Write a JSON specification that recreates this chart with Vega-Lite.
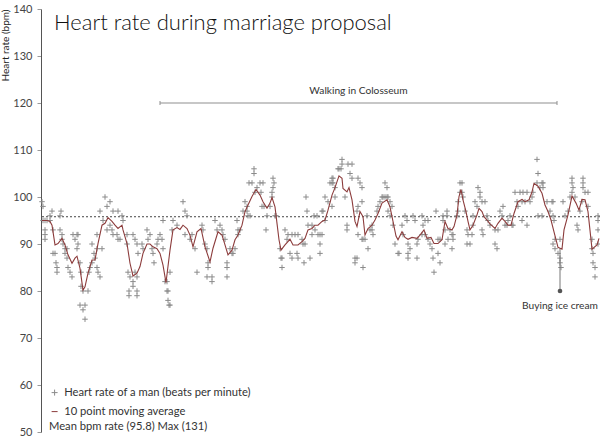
{
  "$schema": "https://vega.github.io/schema/vega-lite/v6.json",
  "width": 559,
  "height": 423,
  "autosize": "none",
  "padding": {"left": 41, "top": 9, "right": 0, "bottom": 12},
  "background": "white",
  "title": {
    "text": "Heart rate during marriage proposal",
    "anchor": "start",
    "orient": "top",
    "frame": "group",
    "offset": 0,
    "dx": 13,
    "dy": 49,
    "baseline": "alphabetic",
    "font": "Lato",
    "fontSize": 22,
    "fontWeight": 300,
    "color": "#111"
  },
  "config": {
    "font": "Lato",
    "view": {"stroke": null},
    "axisY": {
      "grid": false,
      "domainColor": "#555",
      "tickColor": "#999",
      "tickSize": 4,
      "labelFontSize": 11,
      "labelColor": "#444",
      "labelPadding": 5,
      "titleFontSize": 10,
      "titleFontWeight": "normal",
      "titleColor": "#222",
      "titleAnchor": "end",
      "titlePadding": 2
    }
  },
  "datasets": {
    "hr": [
      {"t":0,"bpm":99},{"t":1,"bpm":98},{"t":1,"bpm":95},{"t":3,"bpm":95},{"t":5,"bpm":95},{"t":8,"bpm":95},{"t":3,"bpm":93},{"t":3,"bpm":92},{"t":3,"bpm":91},{"t":8,"bpm":96},
      {"t":10,"bpm":97},{"t":11,"bpm":93},{"t":11,"bpm":88},{"t":13,"bpm":88},{"t":14,"bpm":86},{"t":15,"bpm":85},{"t":15,"bpm":84},{"t":18,"bpm":93},{"t":19,"bpm":97},{"t":18,"bpm":96},
      {"t":20,"bpm":91},{"t":20,"bpm":92},{"t":21,"bpm":90},{"t":23,"bpm":89},{"t":25,"bpm":89},{"t":23,"bpm":88},{"t":25,"bpm":87},{"t":26,"bpm":85},{"t":28,"bpm":84},{"t":30,"bpm":83},
      {"t":31,"bpm":92},{"t":35,"bpm":92},{"t":36,"bpm":92},{"t":33,"bpm":91},{"t":35,"bpm":89},{"t":36,"bpm":90},{"t":38,"bpm":86},{"t":39,"bpm":84},{"t":39,"bpm":81},{"t":41,"bpm":80},
      {"t":38,"bpm":77},{"t":43,"bpm":77},{"t":41,"bpm":76},{"t":43,"bpm":74},{"t":46,"bpm":80},{"t":47,"bpm":84},{"t":48,"bpm":85},{"t":50,"bpm":86},{"t":53,"bpm":87},{"t":55,"bpm":85},
      {"t":50,"bpm":90},{"t":52,"bpm":88},{"t":55,"bpm":89},{"t":55,"bpm":92},{"t":56,"bpm":84},{"t":58,"bpm":83},{"t":58,"bpm":97},{"t":61,"bpm":95},{"t":63,"bpm":100},{"t":65,"bpm":98},
      {"t":68,"bpm":99},{"t":71,"bpm":97},{"t":60,"bpm":89},{"t":65,"bpm":93},{"t":68,"bpm":94},{"t":70,"bpm":93},{"t":71,"bpm":92},{"t":75,"bpm":92},{"t":76,"bpm":91},{"t":78,"bpm":91},
      {"t":76,"bpm":97},{"t":80,"bpm":96},{"t":81,"bpm":95},{"t":85,"bpm":92},{"t":85,"bpm":90},{"t":86,"bpm":84},{"t":88,"bpm":83},{"t":91,"bpm":82},{"t":93,"bpm":84},{"t":95,"bpm":83},
      {"t":91,"bpm":81},{"t":87,"bpm":80},{"t":95,"bpm":80},{"t":87,"bpm":79},{"t":95,"bpm":79},{"t":91,"bpm":92},{"t":93,"bpm":91},{"t":95,"bpm":90},{"t":100,"bpm":90},{"t":101,"bpm":89},
      {"t":96,"bpm":88},{"t":105,"bpm":93},{"t":106,"bpm":91},{"t":108,"bpm":92},{"t":110,"bpm":89},{"t":111,"bpm":88},{"t":112,"bpm":86},{"t":115,"bpm":90},{"t":116,"bpm":91},{"t":118,"bpm":92},
      {"t":120,"bpm":91},{"t":121,"bpm":95},{"t":121,"bpm":89},{"t":123,"bpm":82},{"t":125,"bpm":82},{"t":125,"bpm":80},{"t":126,"bpm":80},{"t":126,"bpm":78},{"t":128,"bpm":77},{"t":127,"bpm":77},
      {"t":128,"bpm":84},{"t":130,"bpm":93},{"t":131,"bpm":95},{"t":135,"bpm":94},{"t":141,"bpm":99},{"t":143,"bpm":97},{"t":145,"bpm":96},{"t":143,"bpm":92},{"t":148,"bpm":91},{"t":150,"bpm":92},
      {"t":153,"bpm":89},{"t":155,"bpm":84},
      {"t":160,"bpm":94},{"t":161,"bpm":93},{"t":163,"bpm":90},{"t":165,"bpm":89},{"t":166,"bpm":86},{"t":166,"bpm":85},{"t":165,"bpm":83},{"t":170,"bpm":83},{"t":170,"bpm":82},{"t":173,"bpm":95},
      {"t":175,"bpm":93},{"t":178,"bpm":94},{"t":180,"bpm":93},{"t":181,"bpm":92},{"t":183,"bpm":91},{"t":185,"bpm":86},{"t":185,"bpm":85},{"t":185,"bpm":83},{"t":188,"bpm":89},{"t":190,"bpm":88},
      {"t":191,"bpm":88},{"t":193,"bpm":89},{"t":195,"bpm":95},{"t":196,"bpm":92},{"t":196,"bpm":93},{"t":198,"bpm":93},{"t":203,"bpm":99},{"t":201,"bpm":97},{"t":205,"bpm":97},{"t":205,"bpm":98},
      {"t":206,"bpm":96},{"t":208,"bpm":96},{"t":207,"bpm":103},{"t":210,"bpm":103},{"t":212,"bpm":106},{"t":212,"bpm":105},{"t":213,"bpm":101},{"t":215,"bpm":102},{"t":218,"bpm":103},{"t":221,"bpm":103},
      {"t":219,"bpm":101},{"t":220,"bpm":98},{"t":222,"bpm":98},{"t":225,"bpm":96},{"t":224,"bpm":93},{"t":228,"bpm":98},{"t":231,"bpm":104},{"t":232,"bpm":103},{"t":231,"bpm":102},{"t":230,"bpm":101},
      {"t":230,"bpm":100},{"t":233,"bpm":96},{"t":234,"bpm":96},{"t":238,"bpm":89},{"t":239,"bpm":87},{"t":240,"bpm":87},{"t":240,"bpm":85},{"t":243,"bpm":93},{"t":245,"bpm":91},{"t":246,"bpm":92},
      {"t":250,"bpm":92},{"t":253,"bpm":92},{"t":256,"bpm":92},{"t":248,"bpm":88},{"t":250,"bpm":87},{"t":255,"bpm":88},{"t":256,"bpm":87},{"t":260,"bpm":91},{"t":261,"bpm":90},{"t":263,"bpm":90},
      {"t":262,"bpm":86},{"t":264,"bpm":100},{"t":265,"bpm":97},{"t":266,"bpm":94},{"t":270,"bpm":94},{"t":268,"bpm":87},{"t":270,"bpm":92},{"t":272,"bpm":96},
      {"t":275,"bpm":96},{"t":273,"bpm":93},{"t":276,"bpm":92},{"t":278,"bpm":92},{"t":280,"bpm":92},{"t":278,"bpm":90},{"t":278,"bpm":88},{"t":280,"bpm":97},{"t":281,"bpm":97},{"t":283,"bpm":95},
      {"t":283,"bpm":100},{"t":286,"bpm":99},{"t":290,"bpm":98},{"t":288,"bpm":103},{"t":290,"bpm":103},{"t":291,"bpm":103},{"t":290,"bpm":104},{"t":291,"bpm":104},{"t":293,"bpm":102},{"t":293,"bpm":100},
      {"t":296,"bpm":106},{"t":297,"bpm":106},{"t":300,"bpm":107},{"t":300,"bpm":108},{"t":299,"bpm":106},{"t":303,"bpm":100},{"t":305,"bpm":93},{"t":305,"bpm":94},{"t":306,"bpm":107},{"t":310,"bpm":107},
      {"t":308,"bpm":105},{"t":310,"bpm":104},{"t":316,"bpm":104},{"t":318,"bpm":103},{"t":320,"bpm":102},{"t":315,"bpm":97},{"t":316,"bpm":98},{"t":320,"bpm":99},{"t":313,"bpm":87},{"t":315,"bpm":87},
      {"t":313,"bpm":86},{"t":321,"bpm":85},{"t":316,"bpm":92},{"t":320,"bpm":91},{"t":321,"bpm":91},{"t":323,"bpm":91},{"t":325,"bpm":96},{"t":326,"bpm":89},{"t":328,"bpm":93},{"t":330,"bpm":93},
      {"t":330,"bpm":94},{"t":331,"bpm":92},{"t":335,"bpm":97},{"t":336,"bpm":98},{"t":338,"bpm":99},{"t":340,"bpm":100},{"t":341,"bpm":100},{"t":343,"bpm":100},{"t":345,"bpm":100},{"t":346,"bpm":100},
      {"t":343,"bpm":103},{"t":345,"bpm":102},{"t":348,"bpm":99},{"t":350,"bpm":98},{"t":346,"bpm":97},{"t":348,"bpm":96},{"t":351,"bpm":94},{"t":353,"bpm":90},{"t":356,"bpm":88},{"t":357,"bpm":88},
      {"t":360,"bpm":94},{"t":361,"bpm":92},{"t":363,"bpm":96},{"t":365,"bpm":95},{"t":366,"bpm":90},{"t":368,"bpm":89},{"t":366,"bpm":88},{"t":366,"bpm":87},{"t":375,"bpm":87},{"t":371,"bpm":96},
      {"t":373,"bpm":95},{"t":375,"bpm":90},{"t":376,"bpm":91},{"t":380,"bpm":96},{"t":383,"bpm":95},{"t":381,"bpm":94},{"t":380,"bpm":92},{"t":383,"bpm":92},{"t":386,"bpm":95},{"t":386,"bpm":91},
      {"t":388,"bpm":90},{"t":390,"bpm":89},{"t":391,"bpm":87},{"t":392,"bpm":84},{"t":394,"bpm":97},{"t":396,"bpm":91},{"t":398,"bpm":91},{"t":396,"bpm":88},{"t":398,"bpm":86},{"t":401,"bpm":96},
      {"t":401,"bpm":95},
      {"t":405,"bpm":97},{"t":405,"bpm":96},{"t":403,"bpm":93},{"t":403,"bpm":90},{"t":406,"bpm":91},{"t":410,"bpm":92},{"t":411,"bpm":92},{"t":411,"bpm":91},{"t":410,"bpm":89},{"t":408,"bpm":93},
      {"t":415,"bpm":96},{"t":416,"bpm":97},{"t":416,"bpm":99},{"t":418,"bpm":101},{"t":420,"bpm":101},{"t":418,"bpm":103},{"t":420,"bpm":103},{"t":421,"bpm":100},{"t":423,"bpm":97},{"t":425,"bpm":93},
      {"t":425,"bpm":90},{"t":428,"bpm":90},{"t":426,"bpm":92},{"t":430,"bpm":92},{"t":431,"bpm":94},{"t":433,"bpm":99},{"t":431,"bpm":96},{"t":435,"bpm":98},{"t":436,"bpm":102},{"t":438,"bpm":101},
      {"t":438,"bpm":100},{"t":440,"bpm":99},{"t":440,"bpm":93},{"t":441,"bpm":92},{"t":443,"bpm":99},{"t":445,"bpm":96},{"t":446,"bpm":95},{"t":448,"bpm":94},{"t":453,"bpm":93},{"t":456,"bpm":93},
      {"t":453,"bpm":90},{"t":455,"bpm":89},{"t":458,"bpm":97},{"t":460,"bpm":96},{"t":461,"bpm":98},{"t":463,"bpm":94},{"t":465,"bpm":94},{"t":466,"bpm":95},{"t":468,"bpm":96},{"t":470,"bpm":94},
      {"t":471,"bpm":94},{"t":473,"bpm":101},{"t":475,"bpm":99},{"t":478,"bpm":101},{"t":481,"bpm":101},{"t":485,"bpm":101},{"t":476,"bpm":98},{"t":480,"bpm":99},{"t":483,"bpm":99},{"t":480,"bpm":95},
      {"t":485,"bpm":94},{"t":488,"bpm":99},{"t":490,"bpm":100},{"t":491,"bpm":101},{"t":495,"bpm":108},{"t":496,"bpm":105},{"t":495,"bpm":103},{"t":500,"bpm":103},{"t":501,"bpm":103},{"t":498,"bpm":102},
      {"t":501,"bpm":102},{"t":496,"bpm":96},{"t":500,"bpm":96},{"t":505,"bpm":99},{"t":508,"bpm":97},{"t":510,"bpm":99},{"t":511,"bpm":99},{"t":511,"bpm":96},{"t":512,"bpm":95},{"t":511,"bpm":90},
      {"t":513,"bpm":89},{"t":513,"bpm":91},{"t":516,"bpm":88},{"t":518,"bpm":87},{"t":518,"bpm":86},{"t":519,"bpm":85},{"t":518,"bpm":91},{"t":521,"bpm":99},{"t":523,"bpm":96},{"t":526,"bpm":97},
      {"t":528,"bpm":100},{"t":530,"bpm":101},{"t":530,"bpm":104},{"t":530,"bpm":103},{"t":531,"bpm":102},{"t":533,"bpm":100},{"t":535,"bpm":94},{"t":536,"bpm":93},{"t":538,"bpm":97},{"t":540,"bpm":99},
      {"t":541,"bpm":104},{"t":541,"bpm":103},{"t":541,"bpm":102},{"t":543,"bpm":101},{"t":546,"bpm":101},{"t":546,"bpm":98},{"t":550,"bpm":91},{"t":550,"bpm":89},{"t":551,"bpm":88},{"t":551,"bpm":86},
      {"t":553,"bpm":85},{"t":553,"bpm":83},{"t":556,"bpm":96},{"t":556,"bpm":95},{"t":556,"bpm":93},{"t":556,"bpm":90}
    ],
    "avg": [
      {"t":0,"avg":95},{"t":5,"avg":95},{"t":8,"avg":94.8},{"t":10,"avg":94},{"t":13,"avg":89.8},{"t":16,"avg":90.1},{"t":20,"avg":91.2},{"t":23,"avg":89.8},{"t":26,"avg":87.7},{"t":30,"avg":85.9},
      {"t":33,"avg":87},{"t":35,"avg":87.4},{"t":38,"avg":84.8},{"t":41,"avg":80.2},{"t":43,"avg":80.9},{"t":46,"avg":83.8},{"t":50,"avg":86.6},{"t":53,"avg":86.6},{"t":56,"avg":90.1},{"t":60,"avg":94},
      {"t":63,"avg":94.4},{"t":66,"avg":95.6},{"t":70,"avg":94.8},{"t":73,"avg":94},{"t":76,"avg":93.3},{"t":80,"avg":94},{"t":81,"avg":93},{"t":85,"avg":90.1},{"t":88,"avg":85.9},{"t":91,"avg":83.2},
      {"t":95,"avg":83.8},{"t":98,"avg":85.2},{"t":101,"avg":88},{"t":105,"avg":90},{"t":108,"avg":90},{"t":111,"avg":89.4},{"t":115,"avg":89},{"t":118,"avg":88},{"t":121,"avg":85.5},{"t":124,"avg":81.8},
      {"t":128,"avg":88.7},{"t":131,"avg":93},{"t":135,"avg":93.5},{"t":138,"avg":93.1},{"t":141,"avg":94},{"t":145,"avg":93.3},{"t":148,"avg":91.9},{"t":151,"avg":89.4},{"t":155,"avg":92.6},{"t":159,"avg":93.3},
      {"t":163,"avg":89.4},{"t":168,"avg":86.2},{"t":171,"avg":89.1},{"t":176,"avg":92.6},{"t":180,"avg":91.9},{"t":183,"avg":89.8},{"t":186,"avg":87.7},{"t":190,"avg":88.7},{"t":193,"avg":90.9},{"t":196,"avg":91.9},
      {"t":200,"avg":94},{"t":203,"avg":96.9},{"t":206,"avg":98.3},{"t":210,"avg":100.1},{"t":214,"avg":101.6},{"t":218,"avg":100.4},{"t":221,"avg":99},{"t":225,"avg":97.6},{"t":228,"avg":98.7},{"t":230,"avg":99.9},
      {"t":233,"avg":97.9},{"t":235,"avg":94.4},{"t":237,"avg":90.9},{"t":239,"avg":88.7},{"t":243,"avg":89.8},{"t":248,"avg":91},{"t":251,"avg":89.8},{"t":256,"avg":89.8},{"t":260,"avg":90.5},{"t":263,"avg":91.2},
      {"t":266,"avg":93},{"t":270,"avg":93.3},{"t":273,"avg":94},{"t":276,"avg":94},{"t":280,"avg":94.8},{"t":283,"avg":95.1},{"t":286,"avg":97.2},{"t":290,"avg":100.4},{"t":293,"avg":102},{"t":297,"avg":104.5},
      {"t":300,"avg":104},{"t":301,"avg":101.8},{"t":305,"avg":101.1},{"t":307,"avg":102},{"t":310,"avg":99.4},{"t":313,"avg":94.8},{"t":315,"avg":93.7},{"t":318,"avg":96.9},{"t":321,"avg":95.8},{"t":323,"avg":91.9},
      {"t":326,"avg":93.3},{"t":330,"avg":94},{"t":333,"avg":95.1},{"t":336,"avg":96.5},{"t":340,"avg":98.7},{"t":345,"avg":99.4},{"t":348,"avg":97.9},{"t":351,"avg":94.8},{"t":354,"avg":91.7},{"t":356,"avg":90.9},
      {"t":360,"avg":92.6},{"t":363,"avg":91.4},{"t":366,"avg":91},{"t":370,"avg":91.4},{"t":375,"avg":91.2},{"t":378,"avg":91.9},{"t":382,"avg":93},{"t":385,"avg":91.2},{"t":389,"avg":91.4},{"t":392,"avg":90.1},
      {"t":396,"avg":90.1},{"t":400,"avg":90.9},{"t":403,"avg":94.8},{"t":406,"avg":93.3},{"t":410,"avg":93},{"t":412,"avg":93.7},{"t":415,"avg":96.2},{"t":417,"avg":100.1},{"t":419,"avg":101.6},{"t":421,"avg":99.4},
      {"t":424,"avg":96.9},{"t":426,"avg":94.8},{"t":428,"avg":93},{"t":431,"avg":94},{"t":435,"avg":96.2},{"t":437,"avg":97.6},{"t":440,"avg":96.9},{"t":442,"avg":95.8},{"t":445,"avg":95.1},{"t":448,"avg":94.3},
      {"t":453,"avg":93.3},{"t":456,"avg":94.4},{"t":460,"avg":95.5},{"t":463,"avg":94.8},{"t":466,"avg":94},{"t":469,"avg":94},{"t":472,"avg":96.5},{"t":476,"avg":99},{"t":480,"avg":99.5},{"t":483,"avg":99},
      {"t":487,"avg":99.4},{"t":490,"avg":101.1},{"t":492,"avg":102.9},{"t":496,"avg":102.3},{"t":500,"avg":100.8},{"t":503,"avg":98.3},{"t":506,"avg":96.9},{"t":509,"avg":95.1},{"t":512,"avg":92.6},{"t":516,"avg":89.3},
      {"t":520,"avg":88.9},{"t":522,"avg":93},{"t":526,"avg":96.2},{"t":530,"avg":100.2},{"t":534,"avg":98.7},{"t":537,"avg":97.2},{"t":540,"avg":99.5},{"t":543,"avg":99.4},{"t":546,"avg":96.9},{"t":550,"avg":88.9},
      {"t":555,"avg":89.8},{"t":557,"avg":91.2}
    ],
    "walk": [{"start": 118, "end": 515, "level": 120, "label": "Walking in Colosseum"}],
    "walkEnds": [{"t": 118, "level": 120}, {"t": 515, "level": 120}],
    "icecream": [{"t": 518, "bpm": 80, "avg": 89, "label": "Buying ice cream"}],
    "stats": [{"mean": 95.8, "max": 131}]
  },
  "layer": [
    {
      "data": {"name": "stats"},
      "mark": {"type": "rule", "strokeDash": [2, 2], "color": "#444", "strokeWidth": 1},
      "encoding": {
        "y": {"field": "mean", "type": "quantitative", "scale": {"domain": [50, 140]}}
      }
    },
    {
      "data": {"name": "hr"},
      "mark": {"type": "point", "filled": false, "size": 30, "strokeWidth": 1, "opacity": 1},
      "encoding": {
        "x": {"field": "t", "type": "quantitative", "scale": {"domain": [-1, 558], "nice": false, "zero": false}, "axis": null},
        "y": {
          "field": "bpm", "type": "quantitative",
          "scale": {"domain": [50, 140], "nice": false, "zero": false},
          "axis": {"title": "Heart rate (bpm)", "values": [50, 60, 70, 80, 90, 100, 110, 120, 130, 140]}
        },
        "color": {
          "datum": "Heart rate of a man (beats per minute)",
          "type": "nominal",
          "scale": {"domain": ["Heart rate of a man (beats per minute)", "10 point moving average"], "range": ["#8a8a8a", "#8c3c3c"]},
          "legend": {
            "orient": "none", "legendX": 8, "legendY": 378, "padding": 0,
            "title": "Mean bpm rate (95.8) Max (131)", "titleOrient": "bottom", "titleAnchor": "start",
            "titleFontWeight": "normal", "titleFontSize": 11.2, "titleColor": "#333", "titlePadding": 4,
            "labelFontSize": 11.2, "labelColor": "#333", "labelOffset": 4, "labelLimit": 0,
            "symbolSize": 36, "symbolStrokeWidth": 1, "rowPadding": 7
          }
        },
        "shape": {
          "datum": "Heart rate of a man (beats per minute)",
          "type": "nominal",
          "scale": {"domain": ["Heart rate of a man (beats per minute)", "10 point moving average"], "range": ["M-1,0H1M0,-1V1", "M-1,0H1"]},
          "legend": {
            "orient": "none", "legendX": 8, "legendY": 378, "padding": 0,
            "title": "Mean bpm rate (95.8) Max (131)", "titleOrient": "bottom", "titleAnchor": "start",
            "titleFontWeight": "normal", "titleFontSize": 11.2, "titleColor": "#333", "titlePadding": 4,
            "labelFontSize": 11.2, "labelColor": "#333", "labelOffset": 4, "labelLimit": 0,
            "symbolSize": 36, "symbolStrokeWidth": 1, "rowPadding": 7
          }
        }
      }
    },
    {
      "data": {"name": "avg"},
      "mark": {"type": "line", "strokeWidth": 1.1},
      "encoding": {
        "x": {"field": "t", "type": "quantitative"},
        "y": {"field": "avg", "type": "quantitative"},
        "color": {"datum": "10 point moving average", "type": "nominal"}
      }
    },
    {
      "data": {"name": "walk"},
      "mark": {"type": "rule", "color": "#8f8f8f", "strokeWidth": 1},
      "encoding": {
        "x": {"field": "start", "type": "quantitative"},
        "x2": {"field": "end"},
        "y": {"field": "level", "type": "quantitative"}
      }
    },
    {
      "data": {"name": "walkEnds"},
      "mark": {"type": "point", "shape": "M0,-1V1", "size": 16, "color": "#8f8f8f", "strokeWidth": 1, "filled": false, "opacity": 1},
      "encoding": {
        "x": {"field": "t", "type": "quantitative"},
        "y": {"field": "level", "type": "quantitative"}
      }
    },
    {
      "data": {"name": "walk"},
      "transform": [{"calculate": "(datum.start + datum.end) / 2", "as": "mid"}],
      "mark": {"type": "text", "align": "center", "baseline": "middle", "dy": -12, "fontSize": 10.2, "color": "#333"},
      "encoding": {
        "x": {"field": "mid", "type": "quantitative"},
        "y": {"field": "level", "type": "quantitative"},
        "text": {"field": "label"}
      }
    },
    {
      "data": {"name": "icecream"},
      "mark": {"type": "rule", "color": "#777", "strokeWidth": 1},
      "encoding": {
        "x": {"field": "t", "type": "quantitative"},
        "y": {"field": "bpm", "type": "quantitative"},
        "y2": {"field": "avg"}
      }
    },
    {
      "data": {"name": "icecream"},
      "mark": {"type": "circle", "size": 22, "color": "#555", "opacity": 1},
      "encoding": {
        "x": {"field": "t", "type": "quantitative"},
        "y": {"field": "bpm", "type": "quantitative"}
      }
    },
    {
      "data": {"name": "icecream"},
      "mark": {"type": "text", "align": "center", "baseline": "middle", "dy": 15, "fontSize": 10.2, "color": "#333"},
      "encoding": {
        "x": {"field": "t", "type": "quantitative"},
        "y": {"field": "bpm", "type": "quantitative"},
        "text": {"field": "label"}
      }
    }
  ]
}
